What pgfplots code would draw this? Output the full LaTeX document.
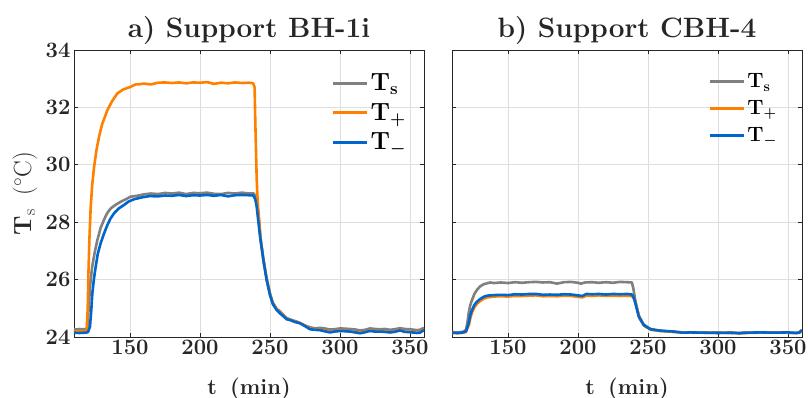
\documentclass[border=0pt]{standalone}
\usepackage{pgfplots}
\pgfplotsset{compat=1.18}
\definecolor{cgray}{RGB}{128,128,128}
\definecolor{corange}{RGB}{255,128,0}
\definecolor{cblue}{RGB}{0,102,204}
\definecolor{caxis}{RGB}{38,38,38}
\definecolor{cgrid}{RGB}{222,222,222}
\pgfplotsset{
  myaxis/.style={
    scale only axis, width=350pt, height=287pt,
    xmin=110, xmax=360, ymin=24, ymax=34,
    xtick={150,200,250,300,350}, ytick={24,26,28,30,32,34},
    tick align=inside, major tick length=4pt,
    xtick pos=both, ytick pos=both,
    grid=major, major grid style={cgrid, line width=0.8pt},
    axis line style={caxis, line width=0.9pt},
    every tick/.style={caxis, line width=0.9pt},
    tick label style={font=\fontsize{22}{22}\selectfont\bfseries, text=caxis},
    /pgf/number format/assume math mode=true,
    xlabel={\textbf{t\hspace{0.6em}(min)}},
    xlabel style={font=\fontsize{22}{22}\selectfont, text=caxis, at={(axis description cs:0.5,0)}, anchor=base, yshift=-57pt},
    title style={font=\fontsize{28}{28}\selectfont\bfseries, text=caxis, at={(axis description cs:0.5,1)}, anchor=base, yshift=7pt},
    legend cell align=left,
    legend style={draw=none, fill=none, row sep=7pt, inner sep=0pt},
    legend image code/.code={\draw[#1, line width=3pt, line cap=butt] (0pt,0pt) -- (34pt,0pt);},
    every axis plot/.append style={line width=2.6pt, line join=round},
  }
}
\begin{document}
\begin{tikzpicture}
\useasboundingbox (-74pt,-60pt) rectangle (734pt,337pt);
\begin{axis}[myaxis, at={(0pt,0pt)}, anchor=south west,
  title={a) Support BH-1i},
  ylabel={$\mathbf{T}_\mathrm{s}\ \ (^\circ\mathrm{C})$},
  ylabel style={font=\fontsize{23}{23}\selectfont, text=caxis, at={(axis description cs:-0.14,0.5)}, anchor=center, rotate=0},
  legend style={at={(axis description cs:0.955,0.925)}, anchor=north east, font=\fontsize{24}{24}\selectfont\boldmath},
]
\addplot[cgray] coordinates {(110,24.27) (112,24.26) (114,24.28) (116,24.27) (118,24.27) (119.5,24.3) (120.5,25.0) (121.5,25.8) (123,26.45) (124.8,26.95) (126.7,27.38) (129,27.8) (131.4,28.08) (133.5,28.3) (136.2,28.48) (139.5,28.6) (143.3,28.71) (147,28.8) (150.5,28.89) (155,28.92) (160,28.97) (164.8,29.0) (170,28.98) (175,29.02) (180,29.0) (185,29.03) (190,28.98) (195,29.02) (200,29.01) (205,29.03) (210,28.99) (215,28.98) (220,29.02) (225,29.0) (230,29.03) (235,29.0) (238.5,29.0) (240,28.85) (241,28.6) (243,27.55) (245.3,26.7) (247.6,26.05) (250,25.52) (252,25.2) (254.8,24.98) (257,24.9) (261.9,24.66) (265,24.6) (269,24.54) (272,24.47) (275,24.4) (278.6,24.34) (282,24.3) (285.7,24.32) (289,24.3) (292.9,24.26) (296,24.27) (300,24.3) (304,24.29) (307,24.28) (311,24.26) (314.3,24.23) (318,24.25) (321.4,24.3) (325,24.28) (328.6,24.27) (332,24.28) (335.7,24.25) (339,24.27) (342.9,24.31) (346,24.28) (350,24.27) (354.8,24.24) (357,24.25) (360,24.32)};
\addlegendentry{$\mathrm{T}_\mathrm{s}$}
\addplot[corange] coordinates {(110,24.2) (115,24.2) (119,24.2) (119.8,25.0) (120.3,26.2) (121,27.4) (121.9,28.5) (123,29.3) (124.3,29.9) (126,30.5) (127.9,30.98) (130,31.4) (133.8,31.9) (137,32.2) (141,32.49) (145,32.62) (150.5,32.72) (154,32.8) (157.6,32.81) (160,32.83) (165,32.8) (170,32.86) (175,32.87) (180,32.85) (185,32.87) (190,32.84) (195,32.87) (200,32.86) (205,32.88) (210,32.82) (215,32.86) (220,32.84) (225,32.87) (230,32.85) (235,32.86) (238,32.84) (239,32.7) (239.5,31.5) (240,30.5) (240.5,29.5) (241.2,28.7) (242.4,28.0) (243.5,27.3) (245.5,26.6) (247.8,25.95) (250.2,25.45) (252.2,25.15) (255,24.95) (257.1,24.84) (261.9,24.63) (264.3,24.6) (268,24.53) (271.4,24.49) (275,24.39) (278.6,24.29) (282,24.26) (285.7,24.25) (289,24.22) (292.9,24.18) (296,24.2) (300,24.22) (304,24.21) (307,24.2) (311,24.17) (314.3,24.15) (318,24.18) (321.4,24.22) (325,24.2) (328.6,24.2) (332,24.19) (335.7,24.17) (339,24.19) (342.9,24.24) (346,24.19) (350,24.18) (354.8,24.15) (357,24.16) (360,24.25)};
\addlegendentry{$\mathrm{T}_{+}$}
\addplot[cblue] coordinates {(110,24.15) (114,24.14) (118,24.15) (120,24.17) (121.4,24.36) (122.3,24.9) (123.1,25.52) (124.3,26.05) (125.5,26.45) (127,26.9) (129,27.26) (131.4,27.6) (133.8,27.9) (136,28.12) (138.6,28.31) (142,28.48) (145.7,28.6) (149,28.72) (152.9,28.8) (158,28.86) (164,28.91) (170,28.9) (175,28.93) (180,28.92) (185,28.95) (190,28.91) (195,28.94) (200,28.93) (205,28.95) (210,28.92) (215,28.95) (220,28.9) (225,28.94) (230,28.95) (235,28.94) (238,28.93) (239.5,28.8) (240.5,28.54) (242.9,27.5) (245.3,26.68) (247.6,25.99) (250,25.46) (252,25.15) (254.8,24.94) (257.1,24.83) (261.9,24.62) (264.3,24.59) (268,24.52) (271.4,24.48) (275,24.38) (278.6,24.27) (282,24.25) (285.7,24.24) (289,24.2) (292.9,24.16) (296,24.19) (300,24.21) (304,24.2) (307,24.19) (311,24.16) (314.3,24.13) (318,24.17) (321.4,24.21) (325,24.19) (328.6,24.19) (332,24.18) (335.7,24.16) (339,24.18) (342.9,24.23) (346,24.18) (350,24.17) (354.8,24.14) (357,24.15) (360,24.24)};
\addlegendentry{$\mathrm{T}_{-}$}
\end{axis}
\begin{axis}[myaxis, at={(378pt,0pt)}, anchor=south west,
  title={b) Support CBH-4},
  yticklabels={},
  legend style={at={(axis description cs:0.935,0.925)}, anchor=north east, font=\fontsize{22}{22}\selectfont\boldmath},
]
\addplot[cgray] coordinates {(110,24.17) (114,24.16) (118,24.18) (120,24.25) (121,24.5) (121.9,24.83) (123,25.1) (124.3,25.29) (126,25.5) (127.8,25.64) (130,25.76) (132.6,25.84) (135,25.87) (137.4,25.9) (140,25.88) (145,25.9) (150,25.88) (155,25.91) (160,25.89) (165,25.91) (170,25.92) (175,25.9) (180,25.91) (185,25.86) (190,25.91) (195,25.92) (200,25.89) (202,25.86) (205,25.9) (210,25.91) (215,25.89) (220,25.91) (225,25.89) (230,25.92) (235,25.91) (238.5,25.9) (239.5,25.7) (241,25.25) (243.4,24.75) (246.9,24.43) (251.7,24.28) (255,24.25) (258.8,24.22) (263,24.2) (268.4,24.18) (275,24.16) (280,24.15) (290,24.15) (300,24.16) (310,24.14) (320,24.15) (330,24.15) (340,24.16) (350,24.15) (355,24.14) (358,24.16) (360,24.24)};
\addlegendentry{$\mathrm{T}_\mathrm{s}$}
\addplot[corange] coordinates {(110,24.14) (114,24.13) (118,24.15) (120,24.18) (122.2,24.44) (123.3,24.7) (124.6,24.89) (126.3,25.06) (128.1,25.17) (130.3,25.26) (132.9,25.34) (135.3,25.38) (140,25.41) (145,25.42) (150,25.41) (155,25.43) (160,25.43) (165,25.44) (170,25.45) (175,25.42) (180,25.43) (185,25.42) (190,25.44) (195,25.43) (200,25.4) (203,25.38) (206,25.44) (210,25.43) (215,25.45) (220,25.43) (225,25.44) (230,25.43) (235,25.44) (238.8,25.42) (240.4,25.3) (241.5,25.1) (244,24.65) (247.5,24.38) (252.3,24.25) (258.8,24.21) (268.4,24.18) (275,24.15) (280,24.15) (290,24.15) (300,24.14) (310,24.15) (315,24.13) (320,24.14) (330,24.15) (340,24.15) (350,24.15) (356,24.14) (358,24.15) (360,24.23)};
\addlegendentry{$\mathrm{T}_{+}$}
\addplot[cblue] coordinates {(110,24.15) (114,24.14) (118,24.16) (120,24.2) (121.9,24.48) (123,24.75) (124.3,24.94) (126,25.12) (127.8,25.23) (130,25.32) (132.6,25.4) (135,25.44) (139.8,25.46) (145,25.47) (150,25.46) (155,25.49) (160,25.48) (165,25.5) (170,25.5) (175,25.47) (180,25.48) (185,25.47) (190,25.49) (195,25.48) (200,25.45) (203,25.43) (206,25.5) (210,25.49) (215,25.5) (220,25.48) (225,25.5) (230,25.49) (235,25.5) (238.5,25.48) (240,25.35) (241,25.17) (243.4,24.71) (246.9,24.42) (251.7,24.27) (258.8,24.22) (268.4,24.19) (275,24.15) (280,24.16) (290,24.15) (300,24.14) (310,24.15) (315,24.13) (320,24.15) (330,24.16) (340,24.15) (350,24.16) (356,24.14) (358,24.15) (360,24.24)};
\addlegendentry{$\mathrm{T}_{-}$}
\end{axis}
\end{tikzpicture}
\end{document}
